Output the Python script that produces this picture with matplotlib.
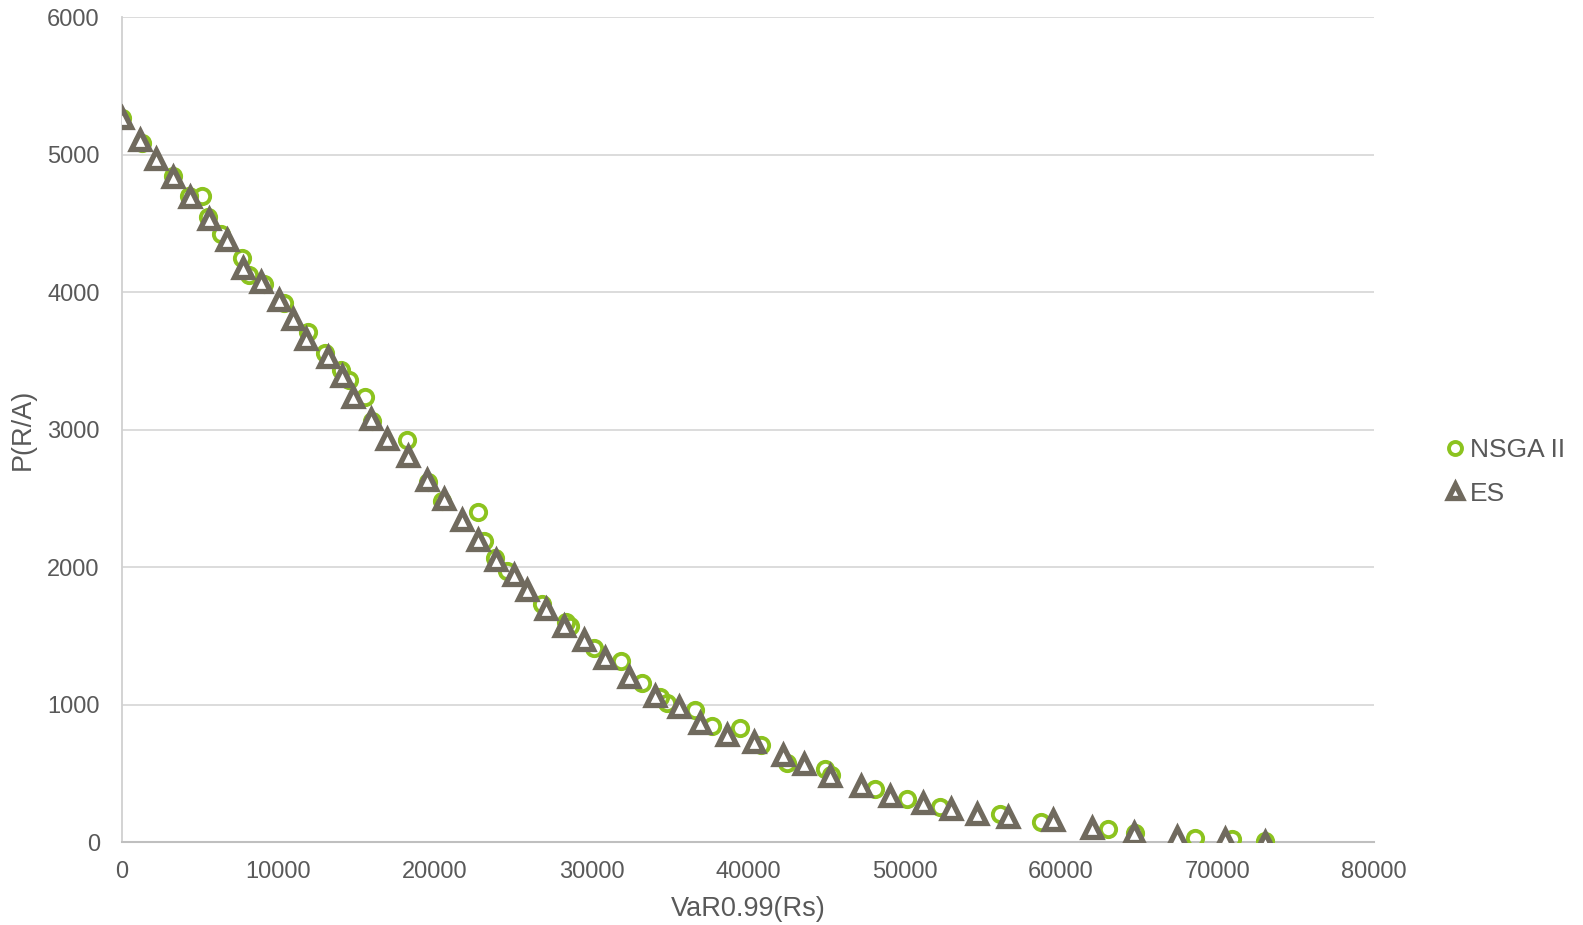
import numpy as np
import matplotlib.pyplot as plt

plt.rcParams['font.family'] = ['Liberation Sans', 'DejaVu Sans']

# Pareto fronts: VaR0.99 (Rs) vs P(R/A)
nsga_var = [0, 1290, 3225, 4257, 5096, 5483, 6321, 7676, 8127, 9095, 10320,
            11868, 12965, 13997, 14513, 15545, 15996, 18189, 19544, 20447,
            22769, 23156, 23801, 24575, 26832, 28380, 28638, 30186, 31863,
            33218, 34379, 34830, 36636, 37668, 39474, 40829, 42506, 44893,
            45280, 48118, 50182, 52246, 56116, 58696, 63017, 64694, 68564,
            70950, 73014]
nsga_p = [5266, 5082, 4847, 4700, 4700, 4546, 4421, 4245, 4127, 4061, 3922,
          3709, 3554, 3437, 3364, 3239, 3062, 2923, 2622, 2482,
          2401, 2188, 2064, 1975, 1733, 1601, 1572, 1410, 1315,
          1160, 1058, 1013, 962, 845, 830, 705, 573, 529,
          485, 389, 316, 257, 206, 147, 95, 66, 29,
          22, 7]

es_var = [0, 1161, 2193, 3225, 4322, 5547, 6708, 7740, 8901, 9998, 10901,
          11739, 13158, 14061, 14771, 15932, 16900, 18254, 19480, 20576,
          21737, 22769, 23865, 25027, 25865, 27091, 28252, 29542, 30832,
          32380, 34057, 35605, 36959, 38637, 40378, 42248, 43603, 45215,
          47215, 49086, 51150, 52956, 54633, 56633, 59471, 61986, 64631,
          67405, 70501, 73014]
es_p = [5266, 5104, 4972, 4840, 4693, 4531, 4377, 4179, 4076, 3944, 3804,
        3657, 3525, 3393, 3239, 3077, 2930, 2805, 2636, 2497,
        2343, 2196, 2049, 1946, 1836, 1696, 1572, 1469, 1337,
        1204, 1065, 984, 867, 778, 727, 632, 565, 477,
        411, 338, 286, 242, 206, 184, 162, 103, 66,
        37, 22, 0]

green = '#8CC31F'
brown = '#706A5E'
txt = '#595959'

fig = plt.figure(figsize=(15.83, 9.25), dpi=100)
ax = fig.add_axes([0.0771, 0.0897, 0.7909, 0.8917])

ax.plot(nsga_var, nsga_p, linestyle='none', marker='o', markersize=11,
        markerfacecolor='none', markeredgecolor=green, markeredgewidth=2.8,
        label='NSGA II', zorder=3)
ax.plot(es_var, es_p, linestyle='none', marker='^', markersize=12.5,
        markerfacecolor='white', markeredgecolor=brown, markeredgewidth=3.8,
        label='ES', zorder=4)

ax.set_xlim(0, 80000)
ax.set_ylim(0, 6000)
ax.set_xticks(np.arange(0, 80001, 10000))
ax.set_yticks(np.arange(0, 6001, 1000))
ax.grid(axis='y', color='#D9D9D9', linewidth=1.3)
ax.set_axisbelow(True)
for s in ['top', 'right']:
    ax.spines[s].set_visible(False)
ax.spines['left'].set_color('#D0D0D0')
ax.spines['bottom'].set_color('#BFBFBF')
ax.spines['left'].set_linewidth(1.3)
ax.spines['bottom'].set_linewidth(1.5)
ax.tick_params(axis='both', length=0, labelsize=17, colors=txt)
ax.tick_params(axis='x', pad=14)
ax.tick_params(axis='y', pad=16)

ax.set_xlabel('VaR0.99(Rs)', fontsize=19.5, color=txt, labelpad=9)
ax.set_ylabel('P(R/A)', fontsize=19.5, color=txt, labelpad=8)

fig.legend(loc='center left', bbox_to_anchor=(0.9, 0.49), frameon=False,
           fontsize=19, labelcolor=txt, handlelength=0.5, handletextpad=0.3,
           labelspacing=0.75, markerscale=0.85)

fig.savefig('out.png', dpi=100)
